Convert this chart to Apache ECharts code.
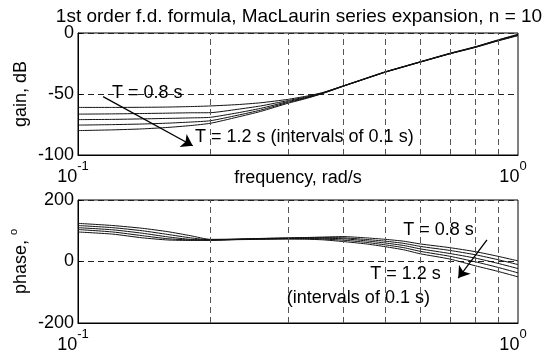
<!DOCTYPE html>
<html>
<head>
<meta charset="utf-8">
<script src="https://cdn.jsdelivr.net/npm/echarts@6/dist/echarts.min.js"></script>
<style>
  html, body { margin: 0; padding: 0; background: #fff; }
  #chart { width: 558px; height: 354px; }
</style>
</head>
<body>
<div id="chart"></div>
<script>
// Frequency samples (rad/s)
const freq = [0.1, 0.12, 0.14, 0.16, 0.18, 0.2, 0.23, 0.26, 0.3, 0.33, 0.36, 0.4, 0.45, 0.5, 0.55, 0.6, 0.7, 0.8, 0.9, 1.0];

// Gain (dB) for sampling periods T = 0.8 ... 1.2 s
const gainT08 = [-61.0, -61.0, -60.9, -60.7, -60.3, -59.8, -58.7, -57.2, -54.4, -51.8, -48.8, -43.4, -37.2, -31.7, -27.4, -23.5, -16.6, -11.2, -5.7, -1.0];
const gainT09 = [-66.5, -66.3, -66.0, -65.7, -65.4, -65.3, -62.6, -59.8, -55.4, -52.4, -49.0, -43.5, -37.3, -31.8, -27.5, -23.6, -16.8, -11.4, -5.9, -1.3];
const gainT10 = [-71.0, -70.8, -70.4, -70.0, -69.6, -69.1, -65.5, -61.8, -56.2, -52.9, -49.2, -43.6, -37.4, -31.9, -27.6, -23.7, -16.9, -11.5, -6.1, -1.6];
const gainT11 = [-75.5, -75.1, -74.6, -73.9, -73.0, -71.9, -67.5, -63.2, -56.9, -53.3, -49.4, -43.7, -37.5, -32.0, -27.7, -23.8, -17.0, -11.7, -6.3, -1.9];
const gainT12 = [-80.0, -79.4, -78.6, -77.4, -75.9, -74.0, -69.0, -64.3, -57.6, -53.7, -49.6, -43.8, -37.6, -32.1, -27.8, -23.9, -17.1, -11.8, -6.5, -2.2];

// Phase (degrees) for the same periods
const phaseT08 = [124, 117, 108, 97, 84, 72, 73, 75, 77, 78, 79.5, 81, 77, 72, 66, 57, 45, 32, 17, 2];
const phaseT09 = [117, 110, 100, 88, 77, 70.5, 72.5, 74.5, 76, 77, 77.5, 77, 72, 66, 59, 49, 36, 22, 6, -10];
const phaseT10 = [110, 103, 92, 80, 72, 70, 72, 74, 75, 75.5, 75.5, 74, 67.5, 60, 52, 41, 26, 11, -6, -23];
const phaseT11 = [104, 96, 84, 74, 70, 69.5, 71.5, 73, 74, 74, 73, 69.5, 62.5, 54, 45, 33, 17, -1, -19, -37];
const phaseT12 = [96, 89, 77, 70, 68.5, 69, 71, 72, 73, 72.5, 70.5, 65, 57.5, 48, 38, 25, 8, -14, -32, -50];

const gainSets = [gainT08, gainT09, gainT10, gainT11, gainT12];
const phaseSets = [phaseT08, phaseT09, phaseT10, phaseT11, phaseT12];
const periodNames = ['T = 0.8 s', 'T = 0.9 s', 'T = 1.0 s', 'T = 1.1 s', 'T = 1.2 s'];

// Decade tick exponents on the frequency axis and in-between grid frequencies
const xTickExponents = [-1, 0];
const xGridFreqs = [0.2, 0.3, 0.4, 0.5, 0.6, 0.7, 0.8, 0.9];

// Text annotations, anchored in data coordinates
const gainNotes = [
  { text: 'T = 0.8 s', at: [0.1195, -49.2] },
  { text: 'T = 1.2 s (intervals of 0.1 s)', at: [0.1845, -85.2] }
];
const gainArrow = [[0.114, -52.2], [0.1823, -92.4]];
const phaseNotes = [
  { text: 'T = 0.8 s', at: [0.5484, 102.8] },
  { text: 'T = 1.2 s', at: [0.4614, -39.9] },
  { text: '(intervals of 0.1 s)', at: [0.2983, -117.7] }
];
const phaseArrow = [[0.8502, 70], [0.7314, -53.8]];

const FONT = "'Liberation Sans', Arial, Helvetica, sans-serif";
const INK = '#000';

function pairs(ys) { return freq.map((f, i) => [f, ys[i]]); }

function tickFormatter(v) {
  const e = Math.round(Math.log10(v));
  if (!xTickExponents.includes(e)) return '';
  return '{b|10}{s|' + e + '}';
}

function xAxisFor(gridIndex, name) {
  return {
    type: 'log', logBase: 10, gridIndex, min: 0.1, max: 1,
    name: name || '', nameLocation: 'middle', nameGap: 14, nameMoveOverlap: false,
    nameTextStyle: { fontFamily: FONT, fontSize: 18, color: INK },
    axisLine: { show: true, onZero: false, lineStyle: { color: INK, width: 1 } },
    axisTick: { show: false },
    splitLine: { show: false },
    axisLabel: {
      show: true, margin: 5, formatter: tickFormatter, padding: [0, 10, 0, 0],
      showMinLabel: true, showMaxLabel: true,
      rich: {
        b: { fontFamily: FONT, fontSize: 18, color: INK, verticalAlign: 'bottom', lineHeight: 26 },
        s: { fontFamily: FONT, fontSize: 13, color: INK, verticalAlign: 'top', lineHeight: 26 }
      }
    }
  };
}

function yAxisFor(gridIndex, min, max, interval, name) {
  return {
    type: 'value', gridIndex, min, max, interval,
    name, nameLocation: 'middle', nameRotate: 90, nameGap: 48, nameMoveOverlap: false,
    nameTextStyle: {
      fontFamily: FONT, fontSize: 18, color: INK,
      rich: {
        n: { fontFamily: FONT, fontSize: 18, color: INK, verticalAlign: 'bottom', lineHeight: 22 },
        s: { fontFamily: FONT, fontSize: 11, color: INK, verticalAlign: 'top', lineHeight: 22 }
      }
    },
    axisLine: { show: true, onZero: false, lineStyle: { color: INK, width: 1 } },
    axisTick: { show: true, inside: true, length: 4, lineStyle: { color: INK } },
    splitLine: { show: true, lineStyle: { color: '#222', width: 1, type: [6, 4] } },
    axisLabel: { fontFamily: FONT, fontSize: 18, color: INK, margin: 4 }
  };
}

function gridLines() {
  return {
    silent: true, symbol: ['none', 'none'], animation: false,
    label: { show: false },
    lineStyle: { color: '#555', width: 1, type: [6, 4] },
    data: xGridFreqs.map(f => ({ xAxis: f }))
  };
}

function notePoints(notes) {
  return {
    silent: true, symbol: 'circle', symbolSize: 0, animation: false,
    label: {
      show: true, position: 'right', distance: 0, formatter: '{b}',
      fontFamily: FONT, fontSize: 18, color: INK
    },
    data: notes.map(n => ({ name: n.text, coord: n.at }))
  };
}

function arrowLine(arrow) {
  return {
    silent: true, symbol: ['none', 'arrow'], symbolSize: 11, animation: false,
    label: { show: false },
    lineStyle: { color: INK, width: 1.3, type: 'solid' },
    data: [[{ coord: arrow[0] }, { coord: arrow[1] }]]
  };
}

const series = [];
gainSets.forEach((ys, i) => {
  series.push({
    name: periodNames[i], type: 'line', xAxisIndex: 0, yAxisIndex: 0,
    data: pairs(ys), showSymbol: false, smooth: 0.2,
    lineStyle: { color: '#111', width: 1 }, z: 3
  });
});
phaseSets.forEach((ys, i) => {
  series.push({
    name: periodNames[i], type: 'line', xAxisIndex: 1, yAxisIndex: 1,
    data: pairs(ys), showSymbol: false, smooth: 0.2,
    lineStyle: { color: '#111', width: 1 }, z: 3
  });
});

// Overlay series carrying grid lines, arrows and notes for each panel
series.push({
  type: 'line', xAxisIndex: 0, yAxisIndex: 0, data: [], z: 2,
  markLine: gridLines()
});
series.push({
  type: 'line', xAxisIndex: 0, yAxisIndex: 0, data: [], z: 5,
  markLine: arrowLine(gainArrow), markPoint: notePoints(gainNotes)
});
series.push({
  type: 'line', xAxisIndex: 1, yAxisIndex: 1, data: [], z: 2,
  markLine: gridLines()
});
series.push({
  type: 'line', xAxisIndex: 1, yAxisIndex: 1, data: [], z: 5,
  markLine: arrowLine(phaseArrow), markPoint: notePoints(phaseNotes)
});

const chart = echarts.init(document.getElementById('chart'), null, { renderer: 'canvas' });
chart.setOption({
  animation: false,
  backgroundColor: '#fff',
  textStyle: { fontFamily: FONT },
  title: {
    text: '1st order f.d. formula, MacLaurin series expansion, n = 10',
    left: 294, top: 2, textAlign: 'center',
    textStyle: { fontFamily: FONT, fontSize: 19, fontWeight: 'normal', color: INK }
  },
  grid: [
    { left: 78, top: 33, width: 440, height: 122, show: true, borderColor: INK, borderWidth: 1, backgroundColor: 'transparent' },
    { left: 78, top: 200, width: 440, height: 123, show: true, borderColor: INK, borderWidth: 1, backgroundColor: 'transparent' }
  ],
  xAxis: [xAxisFor(0, 'frequency, rad/s'), xAxisFor(1, '')],
  yAxis: [
    yAxisFor(0, -100, 0, 50, 'gain, dB'),
    yAxisFor(1, -200, 200, 200, '{n|phase, }{s|o}')
  ],
  series
});
</script>
</body>
</html>
